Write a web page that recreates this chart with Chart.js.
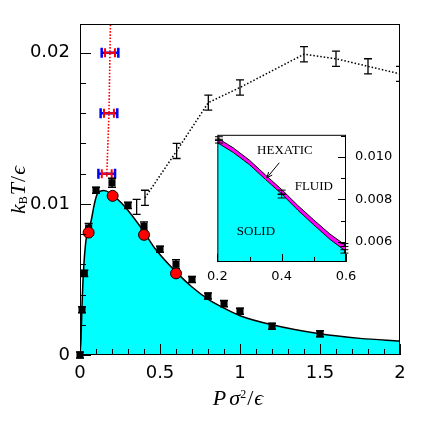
<!DOCTYPE html>
<html>
<head>
<meta charset="utf-8">
<script src="https://cdn.jsdelivr.net/npm/chart.js@4.4.1/dist/chart.umd.min.js"></script>
<style>
body { margin: 0; background: #fff; }
#wrap { position: relative; width: 436px; height: 436px; }
#main { position: absolute; left: 0; top: 0; }
#inset { position: absolute; left: 200px; top: 118px; }
</style>
</head>
<body>
<div id="wrap">
<canvas id="main" width="436" height="436"></canvas>
<canvas id="inset" width="210" height="172"></canvas>
</div>
<script>
// solid-phase boundary (cyan area)
const curveP = [0, 0.003, 0.006, 0.0125, 0.021, 0.0375, 0.055, 0.07, 0.09, 0.11, 0.15, 0.19, 0.225, 0.29, 0.39, 0.465, 0.6, 0.7, 0.8, 0.9, 1.0, 1.2, 1.5, 1.75, 2.0];
const curveT = [0, 0.0005, 0.001, 0.0032, 0.0054, 0.0076, 0.0083, 0.0089, 0.0100, 0.0107, 0.01088, 0.0107, 0.0104, 0.0097, 0.0083, 0.0071, 0.0055, 0.0045, 0.0037, 0.0031, 0.0026, 0.0020, 0.0014, 0.0011, 0.00093];

// filled squares
const squareP = [0, 0.0125, 0.027, 0.054, 0.1, 0.2, 0.3, 0.4, 0.5, 0.6, 0.7, 0.8, 0.9, 1.0, 1.2, 1.5];
const squareT = [0, 0.0030, 0.0054, 0.0084, 0.0109, 0.0114, 0.0099, 0.0085, 0.0070, 0.0060, 0.0050, 0.0039, 0.0034, 0.0029, 0.0019, 0.0014];
const squareErr = [0.0002, 0.0002, 0.0002, 0.0003, 0.0002, 0.0003, 0.0002, 0.0003, 0.0002, 0.0003, 0.0002, 0.0002, 0.0002, 0.0002, 0.0002, 0.0002];

// red circles
const circleP = [0.054, 0.204, 0.4, 0.6];
const circleT = [0.0081, 0.01053, 0.00795, 0.0054];

// open error bars joined by dotted line
const openP = [0.354, 0.406, 0.604, 0.802, 1.0, 1.4, 1.6, 1.8, 2.0];
const openT = [0.0098, 0.0104, 0.0135, 0.0167, 0.0177, 0.0199, 0.0196, 0.0191, 0.0186];
const openErr = [0.0005, 0.0005, 0.0005, 0.0005, 0.0005, 0.0005, 0.0005, 0.0005, 0.0005];

// horizontal red / blue bars and red dotted guide
const barP = [0.167, 0.181, 0.1875];
const barT = [0.012, 0.016, 0.020];
const barErrRed = [0.031, 0.031, 0.031];
const barErrBlue = [0.052, 0.052, 0.052];
const guideP = [0.167, 0.181, 0.1875, 0.19];
const guideT = [0.0118, 0.016, 0.020, 0.0219];

// main axes
const xMajor = [0, 0.5, 1, 1.5, 2];
const xLabels = ['0', '0.5', '1', '1.5', '2'];
const yMajor = [0, 0.01, 0.02];
const yLabels = ['0', '0.01', '0.02'];

// inset
const insetP = [0.2, 0.25, 0.3, 0.35, 0.4, 0.45, 0.5, 0.55, 0.6];
const hexUpper = [0.0109, 0.01043, 0.00985, 0.00915, 0.00847, 0.00772, 0.00703, 0.00637, 0.00582];
const hexLower = [0.01068, 0.01021, 0.00964, 0.00894, 0.00826, 0.00750, 0.00680, 0.00612, 0.00555];
const insetPtP = [0.205, 0.205, 0.4, 0.4, 0.595, 0.595];
const insetPtT = [0.0109, 0.01072, 0.00835, 0.00815, 0.00585, 0.00555];
const insetPtErr = [0.00006, 0.00006, 0.00009, 0.00008, 0.00007, 0.00008];
const ixMajor = [0.2, 0.4, 0.6];
const ixLabels = ['0.2', '0.4', '0.6'];
const iyMajor = [0.006, 0.008, 0.010];
const iyLabels = ['0.006', '0.008', '0.010'];

const pts = (xs, ys) => xs.map((x, i) => ({ x, y: ys[i] }));

function stepTicks(min, max, step) {
    const out = [];
    for (let k = Math.ceil(min / step - 1e-6); k * step <= max + 1e-9; k++) {
        out.push({ value: +(k * step).toFixed(6) });
    }
    return out;
}

function labelFor(major, labels) {
    return v => {
        const i = major.findIndex(m => Math.abs(m - v) < 1e-9);
        return i < 0 ? '' : labels[i];
    };
}

// error bars, drawn under each dataset's own points
const errorBars = {
    id: 'errorBars',
    beforeDatasetDraw(chart, args) {
        const ds = chart.data.datasets[args.index];
        if (!ds.errY && !ds.errX) return;
        const ctx = chart.ctx, a = chart.chartArea;
        const xs = chart.scales.x, ys = chart.scales.y;
        const cap = ds.cap || 4;
        ctx.save();
        if (ds.errClip) {
            ctx.beginPath();
            ctx.rect(a.left, a.top, a.right - a.left, a.bottom - a.top);
            ctx.clip();
        }
        ctx.strokeStyle = ds.errColor || '#000';
        ctx.lineWidth = ds.errWidth || 1;
        ds.data.forEach((d, i) => {
            ctx.beginPath();
            if (ds.errY) {
                const px = xs.getPixelForValue(d.x);
                const y1 = ys.getPixelForValue(d.y - ds.errY[i]);
                const y2 = ys.getPixelForValue(d.y + ds.errY[i]);
                ctx.moveTo(px, y1); ctx.lineTo(px, y2);
                ctx.moveTo(px - cap, y1); ctx.lineTo(px + cap, y1);
                ctx.moveTo(px - cap, y2); ctx.lineTo(px + cap, y2);
            }
            if (ds.errX) {
                const py = ys.getPixelForValue(d.y);
                const x1 = xs.getPixelForValue(d.x - ds.errX[i]);
                const x2 = xs.getPixelForValue(d.x + ds.errX[i]);
                ctx.moveTo(x1, py); ctx.lineTo(x2, py);
                ctx.moveTo(x1, py - cap); ctx.lineTo(x1, py + cap);
                ctx.moveTo(x2, py - cap); ctx.lineTo(x2, py + cap);
            }
            ctx.stroke();
        });
        ctx.restore();
    }
};

// frame plus inward tick marks
function frameTicks(cfg) {
    return {
        id: 'frameTicks',
        beforeDraw(chart) {
            if (!cfg.white) return;
            const a = chart.chartArea, ctx = chart.ctx;
            ctx.save();
            ctx.fillStyle = '#fff';
            ctx.fillRect(a.left, a.top, a.right - a.left, a.bottom - a.top);
            ctx.restore();
        },
        afterDraw(chart) {
            const ctx = chart.ctx, a = chart.chartArea;
            ctx.save();
            ctx.strokeStyle = '#000';
            ctx.lineWidth = 1;
            ctx.strokeRect(a.left + 0.5, a.top + 0.5, a.right - a.left - 1, a.bottom - a.top - 1);
            ctx.beginPath();
            chart.scales.x.ticks.forEach(t => {
                const big = cfg.xMajor.some(m => Math.abs(m - t.value) < 1e-9);
                const px = Math.round(chart.scales.x.getPixelForValue(t.value)) + 0.5;
                ctx.moveTo(px, a.bottom);
                ctx.lineTo(px, a.bottom - (big ? cfg.major : cfg.minor));
            });
            chart.scales.y.ticks.forEach(t => {
                const big = cfg.yMajor.some(m => Math.abs(m - t.value) < 1e-9);
                const py = Math.round(chart.scales.y.getPixelForValue(t.value)) + 0.5;
                const len = big ? cfg.major : cfg.minor;
                if (cfg.yRight) { ctx.moveTo(a.right, py); ctx.lineTo(a.right - len, py); }
                else { ctx.moveTo(a.left, py); ctx.lineTo(a.left + len, py); }
            });
            ctx.stroke();
            ctx.restore();
            if (cfg.after) cfg.after(chart);
        }
    };
}

function drawRich(ctx, parts, cx, y) {
    let w = 0;
    parts.forEach(p => { ctx.font = p.font; w += ctx.measureText(p.t).width + (p.gap || 0); });
    let x = cx - w / 2;
    ctx.textAlign = 'left';
    ctx.textBaseline = 'alphabetic';
    parts.forEach(p => {
        ctx.font = p.font;
        ctx.fillText(p.t, x, y + (p.dy || 0));
        x += ctx.measureText(p.t).width + (p.gap || 0);
    });
}

const serifI = 'italic 22px "Liberation Serif"';
const serif = '22px "Liberation Serif"';

function axisTitles(chart) {
    const ctx = chart.ctx;
    ctx.save();
    ctx.fillStyle = '#000';
    drawRich(ctx, [
        { t: 'P', font: serifI, gap: 3 },
        { t: 'σ', font: serifI },
        { t: '2', font: '12px "Liberation Serif"', dy: -7, gap: 1 },
        { t: '/', font: serif, gap: 1 },
        { t: 'ϵ', font: serifI }
    ], 238, 405);
    ctx.translate(25, 190);
    ctx.rotate(-Math.PI / 2);
    drawRich(ctx, [
        { t: 'k', font: serifI },
        { t: 'B', font: '12px "Liberation Serif"', dy: 2, gap: 1 },
        { t: 'T', font: serifI, gap: 1 },
        { t: '/', font: serif, gap: 1 },
        { t: 'ϵ', font: serifI }
    ], 0, 0);
    ctx.restore();
}

const tickFont = { family: 'DejaVu Sans', size: 18 };

new Chart(document.getElementById('main'), {
    type: 'scatter',
    data: {
        datasets: [
            { data: pts(circleP, circleT), pointStyle: 'circle', pointRadius: 5.5,
              pointBackgroundColor: '#ff0000', pointBorderColor: '#000', pointBorderWidth: 1, clip: false },
            { data: pts(squareP, squareT), pointStyle: 'rect', pointRadius: 5,
              pointBackgroundColor: '#000', pointBorderColor: '#000', pointBorderWidth: 0, clip: false,
              errY: squareErr, errColor: '#000', errWidth: 1.5, cap: 4 },
            { data: pts(barP, barT), pointRadius: 0, errX: barErrRed, errColor: '#ff0000', errWidth: 2, cap: 4.5 },
            { data: pts(barP, barT), pointRadius: 0, errX: barErrBlue, errColor: '#0000ff', errWidth: 2.5, cap: 5 },
            { data: pts(guideP, guideT), showLine: true, pointRadius: 0, borderColor: '#ff0000',
              borderWidth: 1.6, borderDash: [1.6, 1.6] },
            { data: pts(openP, openT), showLine: true, pointRadius: 0, borderColor: '#000',
              borderWidth: 1.5, borderDash: [1.5, 2],
              segment: { borderColor: c => c.p0DataIndex === 0 ? 'rgba(0,0,0,0)' : '#000' },
              errY: openErr, errColor: '#000', errWidth: 1.3, cap: 4, errClip: true },
            { data: pts(curveP, curveT), showLine: true, pointRadius: 0, borderColor: '#000',
              borderWidth: 1.5, fill: 'origin', backgroundColor: '#00ffff',
              cubicInterpolationMode: 'monotone' }
        ]
    },
    options: {
        responsive: false,
        animation: false,
        events: [],
        layout: { padding: { left: 0, top: 24, right: 36, bottom: 0 } },
        plugins: { legend: { display: false }, tooltip: { enabled: false } },
        scales: {
            x: {
                type: 'linear', min: 0, max: 2,
                afterBuildTicks: s => { s.ticks = stepTicks(s.min, s.max, 0.1); },
                afterFit: s => { s.height = 81; },
                grid: { display: false, drawTicks: false },
                border: { display: false },
                ticks: { autoSkip: false, maxRotation: 0, padding: 8, color: '#000', font: tickFont,
                         callback: labelFor(xMajor, xLabels) }
            },
            y: {
                type: 'linear', min: 0, max: 0.0219,
                afterBuildTicks: s => { s.ticks = stepTicks(s.min, s.max, 0.002); },
                afterFit: s => { s.width = 80; },
                grid: { display: false, drawTicks: false },
                border: { display: false },
                ticks: { autoSkip: false, padding: 10, color: '#000', font: tickFont,
                         callback: labelFor(yMajor, yLabels) }
            }
        }
    },
    plugins: [errorBars, frameTicks({ xMajor, yMajor, major: 11, minor: 6, after: axisTitles })]
});

function insetText(chart) {
    const ctx = chart.ctx, xs = chart.scales.x, ys = chart.scales.y;
    ctx.save();
    ctx.fillStyle = '#000';
    ctx.font = '13px "Liberation Serif"';
    ctx.textAlign = 'center';
    ctx.textBaseline = 'middle';
    ctx.fillText('HEXATIC', xs.getPixelForValue(0.41), ys.getPixelForValue(0.01030));
    ctx.fillText('FLUID', xs.getPixelForValue(0.50), ys.getPixelForValue(0.0086));
    ctx.fillText('SOLID', xs.getPixelForValue(0.32), ys.getPixelForValue(0.0065));
    // arrow to the hexatic band
    const x1 = xs.getPixelForValue(0.3925), y1 = ys.getPixelForValue(0.00973);
    const x2 = xs.getPixelForValue(0.354), y2 = ys.getPixelForValue(0.00902);
    const ang = Math.atan2(y2 - y1, x2 - x1);
    ctx.strokeStyle = '#000';
    ctx.lineWidth = 1;
    ctx.beginPath();
    ctx.moveTo(x1, y1); ctx.lineTo(x2, y2);
    ctx.moveTo(x2 - 6 * Math.cos(ang - 0.4), y2 - 6 * Math.sin(ang - 0.4));
    ctx.lineTo(x2, y2);
    ctx.lineTo(x2 - 6 * Math.cos(ang + 0.4), y2 - 6 * Math.sin(ang + 0.4));
    ctx.stroke();
    ctx.restore();
}

const insetFont = { family: 'DejaVu Sans', size: 13 };

new Chart(document.getElementById('inset'), {
    type: 'scatter',
    data: {
        datasets: [
            { data: pts(insetPtP, insetPtT), pointRadius: 0,
              errY: insetPtErr, errColor: '#000', errWidth: 1, cap: 4 },
            { data: pts(insetP, hexLower), showLine: true, pointRadius: 0, borderColor: '#000',
              borderWidth: 1, fill: 'start', backgroundColor: '#00ffff' },
            { data: pts(insetP, hexUpper), showLine: true, pointRadius: 0, borderColor: '#000',
              borderWidth: 1, fill: 1, backgroundColor: '#ff00ff' }
        ]
    },
    options: {
        responsive: false,
        animation: false,
        events: [],
        layout: { padding: { left: 13, top: 12, right: 0, bottom: 0 } },
        plugins: { legend: { display: false }, tooltip: { enabled: false } },
        scales: {
            x: {
                type: 'linear', min: 0.2, max: 0.6,
                afterBuildTicks: s => { s.ticks = stepTicks(s.min, s.max, 0.1); },
                afterFit: s => { s.height = 28; },
                grid: { display: false, drawTicks: false },
                border: { display: false },
                ticks: { autoSkip: false, maxRotation: 0, padding: 7, color: '#000', font: insetFont,
                         callback: labelFor(ixMajor, ixLabels) }
            },
            y: {
                type: 'linear', position: 'right', min: 0.00505, max: 0.01105,
                afterBuildTicks: s => { s.ticks = stepTicks(s.min, s.max, 0.001); },
                afterFit: s => { s.width = 64; },
                grid: { display: false, drawTicks: false },
                border: { display: false },
                ticks: { autoSkip: false, padding: 9, color: '#000', font: insetFont,
                         callback: labelFor(iyMajor, iyLabels) }
            }
        }
    },
    plugins: [errorBars, frameTicks({ xMajor: ixMajor, yMajor: iyMajor, major: 8, minor: 5, yRight: true, white: true, after: insetText })]
});
</script>
</body>
</html>
